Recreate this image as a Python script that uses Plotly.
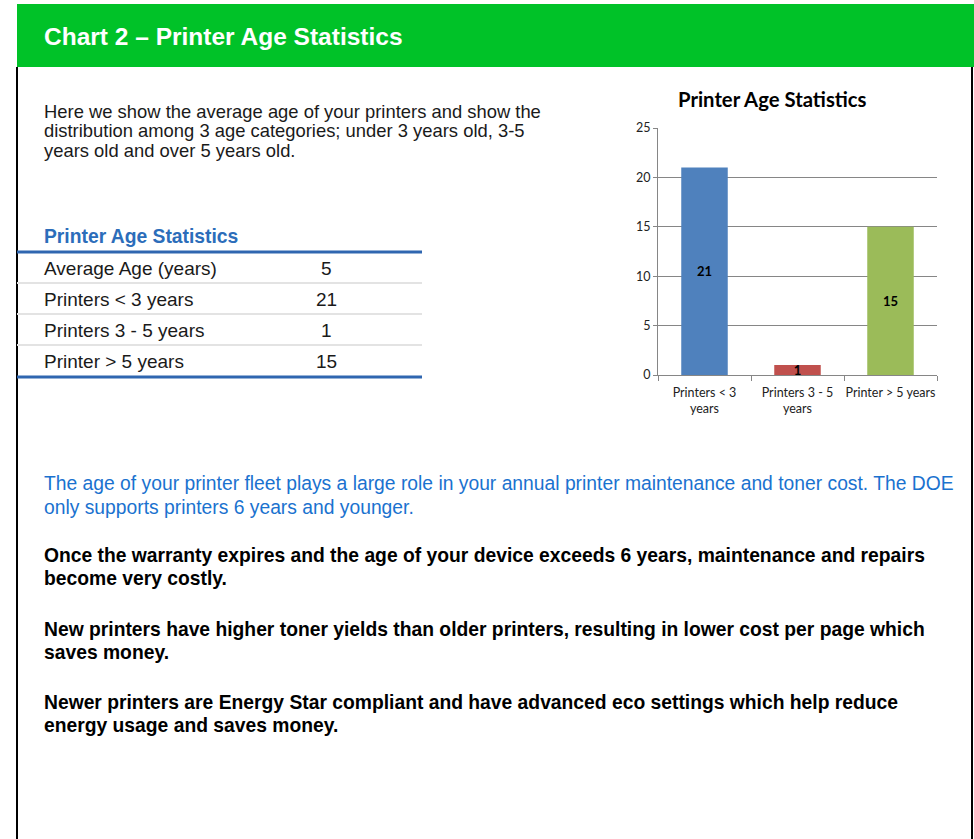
import plotly.graph_objects as go

# ---- data ----
categories = ["Printers < 3<br>years", "Printers 3 - 5<br>years", "Printer > 5 years"]
counts = [21, 1, 15]
bar_colors = ["#4F81BD", "#C0504D", "#9BBB59"]
y_ticks = [0, 5, 10, 15, 20, 25]

table_labels = ["Average Age (years)", "Printers < 3 years", "Printers 3 - 5 years", "Printer > 5 years"]
table_values = [5, 21, 1, 15]

header_title = "Chart 2 \u2013 Printer Age Statistics"
intro_lines = [
    "Here we show the average age of your printers and show the",
    "distribution among 3 age categories; under 3 years old, 3-5",
    "years old and over 5 years old.",
]
blue_lines = [
    "The age of your printer fleet plays a large role in your annual printer maintenance and toner cost. The DOE",
    "only supports printers 6 years and younger.",
]
bold_paras = [
    ["Once the warranty expires and the age of your device exceeds 6 years, maintenance and repairs",
     "become very costly."],
    ["New printers have higher toner yields than older printers, resulting in lower cost per page which",
     "saves money."],
    ["Newer printers are Energy Star compliant and have advanced eco settings which help reduce",
     "energy usage and saves money."],
]

W, H = 974, 839
ARIAL = "Liberation Sans, Arial, sans-serif"
CAL = "Lato, Carlito, Calibri, sans-serif"

fig = go.Figure()

fig.add_trace(go.Bar(
    x=categories, y=counts, marker=dict(color=bar_colors, line=dict(width=0)),
    text=[str(v) for v in counts], textposition="inside", insidetextanchor="middle",
    textangle=0, textfont=dict(family=CAL, size=13, color="#000000", weight=700),
    width=0.5, xaxis="x2", yaxis="y2", showlegend=False, hoverinfo="skip",
))

fig.update_layout(
    width=W, height=H, margin=dict(l=0, r=0, t=0, b=0, pad=0, autoexpand=False),
    paper_bgcolor="white", plot_bgcolor="rgba(0,0,0,0)",
    xaxis=dict(range=[0, W], domain=[0, 1], visible=False, fixedrange=True, automargin=False),
    yaxis=dict(range=[H, 0], domain=[0, 1], visible=False, fixedrange=True, automargin=False),
    xaxis2=dict(domain=[658 / W, 937 / W], anchor="y2", type="category", automargin=False,
                showline=True, linecolor="#868686", linewidth=1, tickangle=0,
                ticks="outside", tickson="boundaries", ticklen=5, tickcolor="#868686",
                ticklabelstandoff=6,
                tickfont=dict(family=CAL, size=12.5, color="#222222"), showgrid=False),
    yaxis2=dict(domain=[(H - 375) / H, (H - 128) / H], anchor="x2", range=[0, 25], automargin=False,
                tickvals=y_ticks, showline=True, linecolor="#868686", linewidth=1,
                ticks="outside", ticklen=4, tickcolor="#868686",
                showgrid=True, gridcolor="#868686", gridwidth=1, zeroline=False,
                tickfont=dict(family=CAL, size=12.5, color="#222222")),
    uniformtext=dict(minsize=13, mode="show"),
    bargap=0.5,
)

shapes = []
shapes.append(dict(type="rect", xref="x", yref="y", x0=17, x1=974, y0=4, y1=67,
                   fillcolor="#00C228", line=dict(width=0), layer="below"))
shapes.append(dict(type="line", xref="x", yref="y", x0=17, x1=17, y0=67, y1=H,
                   line=dict(color="#000000", width=2)))
shapes.append(dict(type="line", xref="x", yref="y", x0=972, x1=972, y0=67, y1=H,
                   line=dict(color="#000000", width=2)))
table_top = 252
row_h = 31
shapes.append(dict(type="line", xref="x", yref="y", x0=17, x1=422, y0=table_top, y1=table_top,
                   line=dict(color="#2F66B0", width=3)))
for i in range(1, len(table_labels)):
    yy = table_top + i * row_h
    shapes.append(dict(type="line", xref="x", yref="y", x0=17, x1=422, y0=yy, y1=yy,
                       line=dict(color="#E3E3E3", width=2)))
yb = table_top + len(table_labels) * row_h + 1
shapes.append(dict(type="line", xref="x", yref="y", x0=17, x1=422, y0=yb, y1=yb,
                   line=dict(color="#2F66B0", width=3)))
fig.update_layout(shapes=shapes)

ann = []
def txt(x, y, s, size=19.3, color="#1a1a1a", bold=False, family=ARIAL, xanchor="left"):
    ann.append(dict(xref="x", yref="y", x=x, y=y, text=s, showarrow=False,
                    xanchor=xanchor, yanchor="middle",
                    font=dict(family=family, size=size, color=color, weight=700 if bold else 400)))

LX = 42
txt(LX, 36, header_title, size=24.5, color="white", bold=True)
for i, line in enumerate(intro_lines):
    txt(LX, 111 + 19.5 * i, line, size=18.4)
txt(LX, 236, "Printer Age Statistics", size=19.3, color="#2C6DBA", bold=True)
for i, (lab, val) in enumerate(zip(table_labels, table_values)):
    yy = table_top + row_h * i + 16
    txt(LX, yy, lab, size=19, color="#1a1a1a")
    txt(326, yy, str(val), size=19, color="#1a1a1a", xanchor="center")
for i, line in enumerate(blue_lines):
    txt(LX, 483 + 24 * i, line, color="#1A72CF")
for j, para in enumerate(bold_paras):
    for i, line in enumerate(para):
        txt(LX, [555, 629, 702][j] + 23 * i, line, color="#000000", bold=True)
txt(772, 99, "Printer Age Statistics", size=20.3, color="#000000", bold=True, family=CAL, xanchor="center")
fig.update_layout(annotations=ann)

fig.write_html("out.html", config={"displayModeBar": False},
               post_script="document.body.style.margin='0';document.body.style.padding='0';"
                           "document.body.style.overflow='hidden';")
